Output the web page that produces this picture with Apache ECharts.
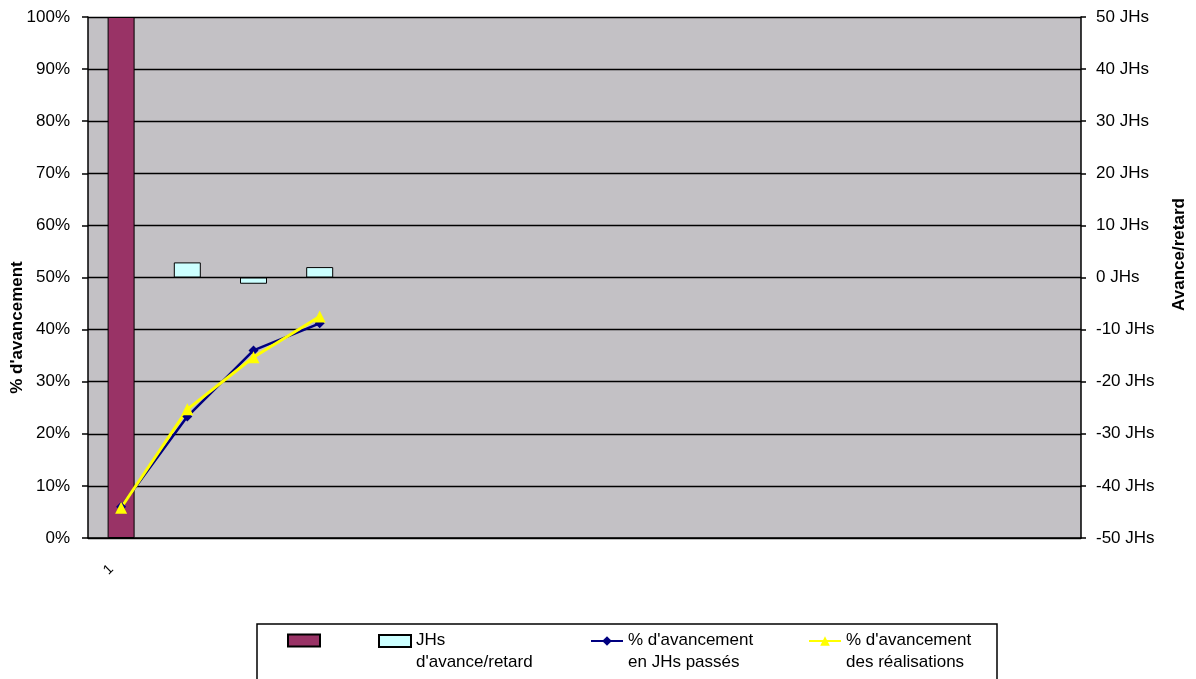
<!DOCTYPE html>
<html>
<head>
<meta charset="utf-8">
<script src="https://cdn.jsdelivr.net/npm/echarts@6/dist/echarts.min.js"></script>
<style>
  html, body { margin: 0; padding: 0; background: #fff; }
  #chart { width: 1196px; height: 679px; }
</style>
</head>
<body>
<div id="chart"></div>
<script>
const categories = ['1', '', '', '', '', '', '', '', '', '', '', '', '', '', '']
const pctTicks = ['0%', '10%', '20%', '30%', '40%', '50%', '60%', '70%', '80%', '90%', '100%']

const totalBar = [1]                          // % d'avancement (maroon bar)
const avanceRetard = [null, 2.9, -1.2, 2.0]   // JHs d'avance/retard
const avancementJHs = [0.06, 0.233, 0.36, 0.412]
const avancementReal = [0.058, 0.247, 0.347, 0.425]

const nameBar = ' '
const nameJHs = "JHs\nd'avance/retard"
const nameBlue = "% d'avancement\nen JHs passés"
const nameYellow = "% d'avancement\ndes réalisations"

const font = "'Liberation Sans', Arial, sans-serif"

// first line sits level with the icon, second line below it
const legendFormatter = name => {
  let lines = name.split('\n')
  if (lines.length < 2) return name
  return '{a|' + lines[0] + '}\n{b|' + lines[1] + '}'
}

const makeLegend = (name, left, top, icon) => ({
  data: [icon ? { name: name, icon: icon } : name],
  left: left,
  top: top,
  padding: 0,
  itemWidth: 32,
  itemHeight: 12,
  itemGap: 0,
  selectedMode: false,
  formatter: legendFormatter,
  textStyle: {
    fontFamily: font,
    fontSize: 17,
    color: '#000',
    rich: {
      a: { fontFamily: font, fontSize: 17, color: '#000', lineHeight: 42 },
      b: { fontFamily: font, fontSize: 17, color: '#000', lineHeight: 1 }
    }
  }
})

const option = {
  animation: false,
  backgroundColor: '#fff',
  textStyle: { fontFamily: font },
  grid: {
    left: 88,
    right: 115,
    top: 17,
    bottom: 141,
    show: true,
    backgroundColor: '#c3c1c5',
    borderWidth: 0,
    outerBoundsMode: 'none'
  },
  graphic: [{
    type: 'rect',
    shape: { x: 257, y: 624, width: 740, height: 70 },
    style: { fill: 'none', stroke: '#000', lineWidth: 1.5 },
    silent: true
  }],
  legend: [
    makeLegend(nameBar, 287, 632, 'rect'),
    makeLegend(nameJHs, 378, 632, 'rect'),
    makeLegend(nameBlue, 590, 632),
    makeLegend(nameYellow, 808, 632)
  ],
  xAxis: {
    type: 'category',
    data: categories,
    axisLine: { lineStyle: { color: '#000', width: 1.5 } },
    axisTick: { length: 6, lineStyle: { color: '#000', width: 1.5 } },
    axisLabel: { interval: 0, rotate: 45, fontSize: 14, color: '#000', margin: 19, padding: [0, 14, 0, 0] },
    splitLine: { show: false }
  },
  yAxis: [{
    type: 'value',
    min: 0,
    max: 1,
    interval: 0.1,
    name: "% d'avancement",
    nameLocation: 'middle',
    nameGap: 62,
    nameRotate: 90,
    nameMoveOverlap: false,
    nameTextStyle: { fontFamily: font, fontSize: 17, fontWeight: 'bold', color: '#000', padding: [0, 100, 0, 0] },
    axisLine: { show: true, lineStyle: { color: '#000', width: 1.5 } },
    axisTick: { show: true, length: 6, lineStyle: { color: '#000', width: 1.5 } },
    axisLabel: {
      fontSize: 17, color: '#000', margin: 18,
      formatter: v => pctTicks[Math.round(v * 10)]
    },
    splitLine: { show: true, lineStyle: { color: '#000', width: 1.3 } }
  }, {
    type: 'value',
    min: -50,
    max: 50,
    interval: 10,
    position: 'right',
    name: 'Avance/retard',
    nameLocation: 'middle',
    nameGap: 90,
    nameRotate: 90,
    nameMoveOverlap: false,
    nameTextStyle: { fontFamily: font, fontSize: 17, fontWeight: 'bold', color: '#000', padding: [0, 0, 0, 46] },
    axisLine: { show: true, lineStyle: { color: '#000', width: 1.5 } },
    axisTick: { show: true, length: 5, lineStyle: { color: '#000', width: 1.5 } },
    axisLabel: { fontSize: 17, color: '#000', margin: 15, formatter: '{value} JHs' },
    splitLine: { show: false }
  }],
  series: [{
    name: nameBar,
    type: 'bar',
    yAxisIndex: 0,
    data: totalBar,
    barWidth: 27,
    barGap: '-100%',
    itemStyle: { color: '#993366', borderColor: '#000', borderWidth: 1 }
  }, {
    name: nameJHs,
    type: 'bar',
    yAxisIndex: 1,
    data: avanceRetard,
    barWidth: 27,
    barGap: '-100%',
    itemStyle: { color: '#ccffff', borderColor: '#000', borderWidth: 1 }
  }, {
    name: nameBlue,
    type: 'line',
    yAxisIndex: 0,
    data: avancementJHs,
    symbol: 'diamond',
    symbolSize: 10,
    itemStyle: { color: '#000080' },
    lineStyle: { color: '#000080', width: 2.5 }
  }, {
    name: nameYellow,
    type: 'line',
    yAxisIndex: 0,
    data: avancementReal,
    symbol: 'triangle',
    symbolSize: 12,
    itemStyle: { color: '#ffff00' },
    lineStyle: { color: '#ffff00', width: 3 }
  }]
}

echarts.init(document.getElementById('chart')).setOption(option)
</script>
</body>
</html>
